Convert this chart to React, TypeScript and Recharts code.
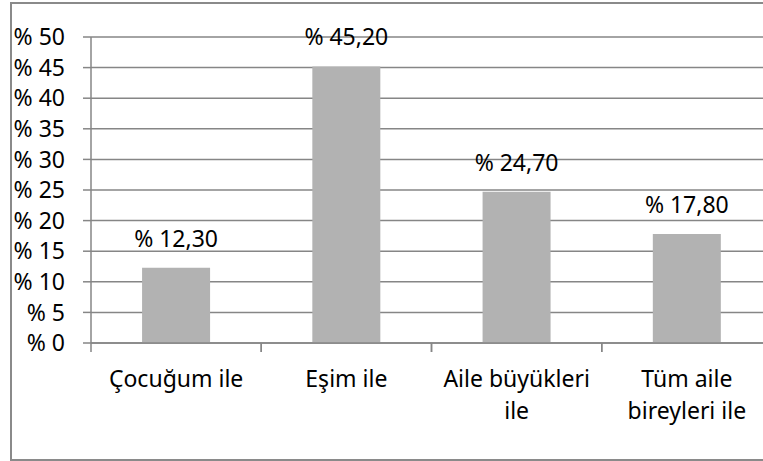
import React from 'react';
import { BarChart, Bar, XAxis, YAxis, CartesianGrid, LabelList } from 'recharts';

// Who the child is left with (Turkish survey answers)
const categories = ['Çocuğum ile', 'Eşim ile', 'Aile büyükleri ile', 'Tüm aile bireyleri ile'];
const categoryLines = [['Çocuğum ile'], ['Eşim ile'], ['Aile büyükleri', 'ile'], ['Tüm aile', 'bireyleri ile']];
const percentages = [12.3, 45.2, 24.7, 17.8];
const yTicks = [0, 5, 10, 15, 20, 25, 30, 35, 40, 45, 50];

const data = categories.map((name, i) => ({ name, value: percentages[i] }));

const FONT = '"Noto Sans", "Open Sans", sans-serif';
const AXIS_COLOR = '#868686';
const BAR_COLOR = '#B2B2B2';

function CategoryTick(props: any) {
  const { x, y, payload, index, visibleTicksCount, width } = props;
  const half = payload?.offset || (width && visibleTicksCount ? width / visibleTicksCount / 2 : 85);
  const lines = categoryLines[index] ?? [String(payload.value)];
  return (
    <g>
      <line x1={x - half} x2={x - half} y1={y} y2={y + 9} stroke={AXIS_COLOR} strokeWidth={1.5} />
      <line x1={x + half} x2={x + half} y1={y} y2={y + 9} stroke={AXIS_COLOR} strokeWidth={1.5} />
      <text x={x} y={y + 44} textAnchor="middle" fontFamily={FONT} fontSize={23} fill="#000">
        {lines.map((ln: string, i: number) => (
          <tspan key={i} x={x} dy={i === 0 ? 0 : 32}>
            {ln}
          </tspan>
        ))}
      </text>
    </g>
  );
}

export default function App() {
  return (
    <div
      style={{
        position: 'fixed',
        left: 0,
        top: 0,
        width: 763,
        height: 461,
        overflow: 'hidden',
        background: '#fff',
      }}
    >
      <div
        style={{
          position: 'absolute',
          left: 10,
          top: 2,
          width: 800,
          height: 455,
          border: '2px solid #8a8a8a',
        }}
      />
      <div style={{ position: 'absolute', left: 0, top: 0 }}>
        <BarChart
          width={790}
          height={461}
          data={data}
          margin={{ top: 37, right: 18, bottom: 0, left: 0 }}
          barCategoryGap="30%"
        >
          <CartesianGrid vertical={false} stroke={AXIS_COLOR} strokeWidth={1.5} />
          <XAxis
            dataKey="name"
            height={118}
            interval={0}
            tickSize={0}
            tickMargin={0}
            tickLine={false}
            axisLine={{ stroke: AXIS_COLOR, strokeWidth: 1.5 }}
            tick={<CategoryTick />}
          />
          <YAxis
            width={91}
            domain={[0, 50]}
            ticks={yTicks}
            interval={0}
            tickSize={8}
            tickMargin={18}
            tickFormatter={(v: number) => `% ${v}`}
            axisLine={{ stroke: AXIS_COLOR, strokeWidth: 1.5 }}
            tickLine={{ stroke: AXIS_COLOR, strokeWidth: 1.5 }}
            tick={{ fill: '#000', fontSize: 23, fontFamily: FONT }}
          />
          <Bar dataKey="value" fill={BAR_COLOR} isAnimationActive={false}>
            <LabelList
              dataKey="value"
              position="top"
              offset={21}
              formatter={(v: any) => `% ${Number(v).toFixed(2).replace('.', ',')}`}
              style={{ fill: '#000', fontSize: 23, fontFamily: FONT }}
            />
          </Bar>
        </BarChart>
      </div>
    </div>
  );
}
